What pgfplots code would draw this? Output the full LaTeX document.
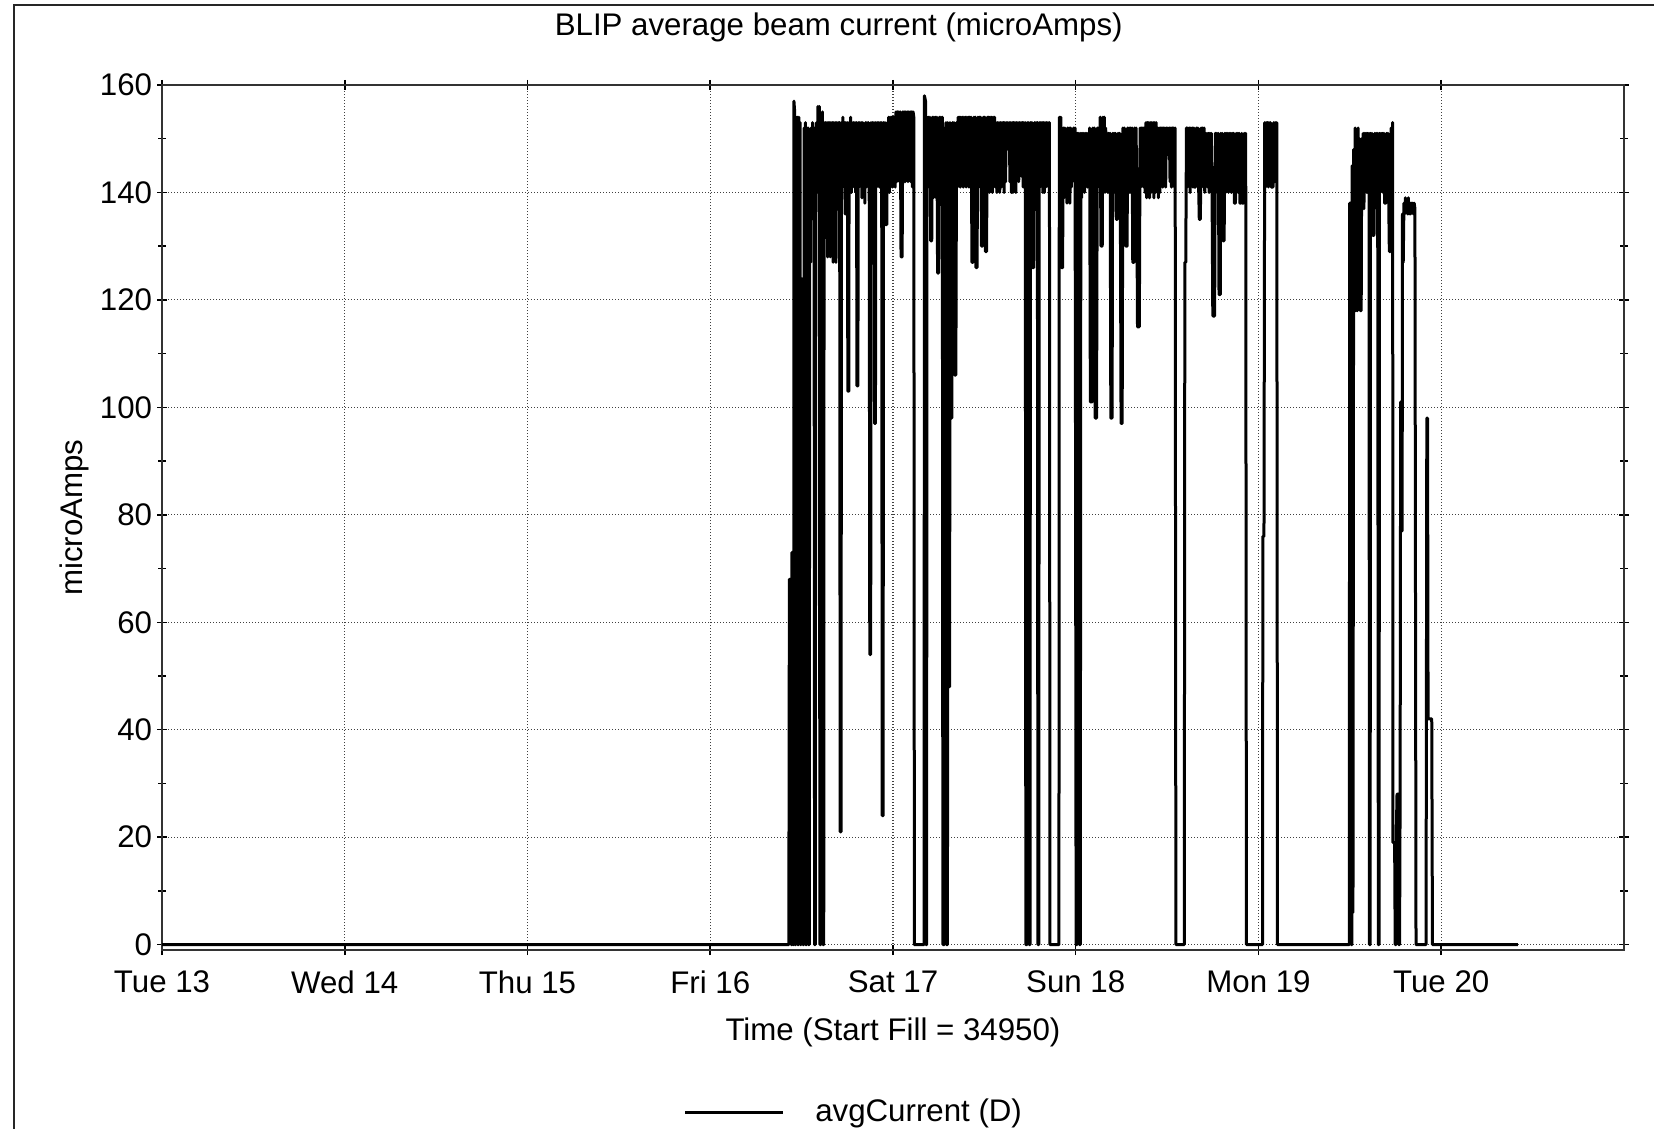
\documentclass[border=0pt]{standalone}
\usepackage{pgfplots}
\pgfplotsset{compat=1.18}
\usepackage{pgfplotstable}
\usepackage{fontspec}
\setmainfont{Liberation Sans}

% time in days from Tue 13 00:00, beam current in microAmps
\pgfplotstableread{
day uA
0.000 0
3.430 0
3.433 68
3.442 68
3.443 0
3.446 0
3.447 73
3.452 73
3.453 0
3.456 0
3.458 157
3.462 155
3.464 0
3.468 0
3.470 154
3.474 146
3.477 154
3.479 0
3.483 0
3.485 154
3.489 143
3.492 153
3.494 0
3.497 0
3.499 124
3.506 123
3.508 0
3.512 0
3.514 152
3.518 140
3.521 153
3.523 0
3.527 0
3.529 152
3.533 141
3.536 152
3.538 0
3.542 0
3.544 127
3.549 127
3.552 152
3.556 139
3.560 153
3.564 141
3.568 152
3.571 0
3.575 0
3.577 135
3.581 153
3.585 140
3.589 156
3.593 143
3.597 156
3.600 0
3.604 0
3.606 154
3.610 136
3.614 155
3.617 0
3.621 0
3.623 153
3.627 141
3.631 153
3.635 142
3.639 153
3.642 128
3.646 153
3.650 141
3.654 153
3.657 128
3.661 153
3.665 140
3.669 153
3.672 127
3.676 153
3.680 142
3.684 153
3.688 127
3.692 153
3.696 141
3.700 153
3.704 140
3.708 153
3.711 21
3.716 21
3.718 153
3.722 141
3.726 154
3.730 143
3.734 153
3.738 136
3.742 153
3.746 141
3.750 153
3.753 103
3.758 103
3.760 153
3.764 142
3.768 154
3.772 140
3.776 153
3.780 142
3.784 153
3.788 141
3.792 153
3.796 140
3.800 153
3.803 104
3.808 104
3.810 153
3.814 141
3.818 153
3.822 142
3.826 153
3.830 139
3.834 153
3.838 142
3.842 152
3.846 138
3.850 153
3.854 141
3.858 153
3.862 142
3.866 153
3.870 140
3.873 54
3.878 54
3.880 153
3.884 141
3.888 153
3.892 142
3.896 153
3.899 97
3.904 97
3.906 153
3.910 141
3.914 153
3.918 143
3.922 153
3.926 141
3.930 153
3.934 142
3.938 153
3.941 24
3.946 24
3.948 153
3.952 141
3.956 153
3.960 134
3.966 134
3.968 153
3.972 141
3.976 154
3.980 140
3.984 154
3.988 142
3.992 154
3.996 141
4.000 154
4.004 143
4.008 154
4.012 141
4.016 155
4.020 142
4.024 155
4.028 143
4.032 155
4.036 142
4.040 155
4.044 128
4.050 128
4.054 155
4.058 142
4.062 155
4.066 142
4.070 155
4.074 143
4.078 155
4.082 142
4.086 155
4.090 143
4.094 155
4.098 142
4.102 155
4.106 141
4.110 155
4.114 154
4.117 0
4.170 0
4.172 158
4.178 157
4.180 0
4.184 0
4.186 154
4.190 142
4.194 154
4.198 141
4.202 154
4.206 131
4.212 131
4.216 154
4.220 139
4.224 154
4.228 141
4.232 154
4.236 139
4.240 154
4.244 125
4.250 125
4.254 154
4.258 143
4.262 154
4.266 141
4.270 154
4.273 0
4.280 0
4.282 152
4.286 141
4.290 153
4.293 0
4.298 0
4.300 153
4.304 48
4.310 48
4.312 153
4.316 98
4.322 98
4.326 153
4.330 141
4.334 153
4.338 106
4.344 106
4.348 153
4.352 141
4.356 154
4.360 142
4.364 154
4.368 141
4.372 154
4.376 143
4.380 154
4.384 141
4.388 154
4.392 142
4.396 154
4.400 141
4.404 154
4.408 143
4.412 154
4.416 141
4.420 154
4.424 142
4.428 154
4.432 127
4.438 127
4.442 154
4.446 141
4.450 154
4.454 126
4.460 126
4.464 154
4.468 142
4.472 154
4.476 141
4.480 154
4.484 130
4.490 130
4.494 154
4.498 140
4.502 154
4.506 129
4.512 129
4.516 154
4.520 141
4.524 154
4.528 140
4.532 154
4.536 142
4.540 154
4.544 140
4.548 154
4.552 142
4.556 154
4.560 141
4.564 153
4.568 140
4.572 153
4.576 142
4.580 153
4.584 140
4.588 153
4.592 141
4.596 153
4.600 142
4.604 153
4.608 140
4.612 153
4.616 142
4.620 153
4.624 148
4.628 153
4.632 148
4.636 153
4.640 142
4.644 153
4.648 140
4.652 153
4.656 140
4.660 153
4.664 142
4.668 153
4.672 140
4.676 153
4.680 143
4.684 153
4.688 142
4.692 153
4.696 148
4.700 153
4.704 143
4.708 153
4.712 141
4.716 153
4.720 142
4.724 153
4.727 0
4.733 0
4.735 153
4.739 141
4.743 153
4.746 0
4.750 0
4.752 153
4.756 142
4.760 153
4.764 126
4.770 126
4.774 153
4.778 141
4.782 153
4.786 142
4.790 153
4.793 0
4.798 0
4.800 153
4.804 141
4.808 153
4.812 142
4.816 153
4.820 140
4.824 153
4.828 140
4.832 153
4.836 141
4.840 153
4.844 142
4.848 153
4.852 141
4.856 153
4.859 0
4.908 0
4.910 154
4.914 148
4.918 154
4.922 126
4.928 126
4.932 152
4.936 139
4.940 152
4.944 141
4.948 151
4.952 138
4.956 152
4.960 142
4.964 152
4.968 138
4.972 152
4.976 141
4.980 151
4.984 148
4.988 152
4.992 142
4.996 152
4.999 90
5.002 0
5.007 0
5.009 151
5.013 140
5.017 151
5.020 0
5.025 0
5.028 151
5.032 139
5.036 151
5.040 141
5.044 151
5.048 140
5.052 151
5.056 142
5.060 151
5.064 141
5.068 151
5.072 148
5.076 152
5.080 101
5.090 101
5.094 152
5.098 141
5.102 152
5.106 98
5.114 98
5.118 152
5.122 141
5.126 152
5.130 142
5.134 154
5.138 130
5.145 130
5.148 154
5.152 141
5.156 154
5.160 140
5.164 152
5.168 141
5.172 151
5.176 140
5.180 151
5.184 142
5.188 151
5.192 98
5.199 98
5.202 151
5.206 141
5.210 151
5.214 140
5.218 151
5.222 135
5.228 135
5.232 151
5.236 141
5.240 151
5.244 140
5.248 97
5.254 97
5.258 152
5.262 141
5.266 152
5.270 142
5.274 130
5.281 130
5.284 152
5.288 141
5.292 152
5.296 140
5.300 152
5.304 142
5.308 152
5.312 127
5.319 127
5.322 152
5.326 141
5.330 152
5.334 140
5.338 115
5.348 115
5.352 152
5.356 141
5.360 152
5.364 142
5.368 152
5.372 141
5.376 152
5.380 140
5.384 153
5.388 139
5.392 153
5.396 140
5.400 153
5.404 139
5.408 153
5.412 140
5.416 153
5.420 141
5.424 153
5.428 139
5.432 153
5.436 140
5.440 153
5.444 141
5.448 152
5.452 139
5.456 152
5.460 140
5.464 152
5.468 142
5.472 152
5.476 141
5.480 152
5.484 142
5.488 152
5.492 141
5.496 152
5.500 147
5.504 152
5.508 147
5.512 152
5.516 142
5.520 152
5.524 141
5.528 152
5.532 142
5.536 152
5.540 141
5.544 152
5.548 0
5.594 0
5.597 127
5.602 127
5.606 152
5.610 141
5.614 152
5.618 142
5.622 152
5.626 140
5.630 152
5.634 142
5.638 152
5.642 141
5.646 152
5.650 141
5.656 141
5.660 152
5.664 142
5.668 152
5.672 142
5.676 135
5.682 135
5.686 152
5.690 141
5.694 152
5.698 142
5.702 152
5.706 140
5.710 151
5.714 142
5.718 151
5.722 141
5.726 151
5.730 140
5.734 151
5.738 141
5.742 151
5.746 140
5.750 117
5.760 117
5.764 151
5.768 140
5.772 151
5.776 141
5.780 151
5.784 121
5.791 121
5.794 151
5.798 141
5.802 151
5.806 131
5.812 131
5.816 151
5.820 140
5.824 151
5.828 141
5.832 151
5.836 140
5.840 151
5.844 142
5.848 151
5.852 140
5.856 151
5.860 141
5.864 151
5.868 138
5.874 138
5.878 151
5.882 141
5.886 151
5.890 140
5.894 151
5.898 138
5.904 138
5.908 151
5.912 138
5.918 138
5.922 151
5.926 141
5.930 151
5.934 0
6.022 0
6.024 76
6.030 76
6.034 153
6.038 141
6.042 153
6.046 142
6.050 153
6.054 141
6.058 153
6.062 142
6.066 153
6.070 141
6.080 141
6.084 153
6.088 142
6.092 153
6.096 142
6.100 153
6.104 0
6.497 0
6.499 138
6.504 138
6.507 0
6.511 0
6.513 145
6.517 6
6.521 148
6.525 118
6.529 152
6.533 118
6.537 150
6.541 118
6.545 152
6.549 131
6.553 150
6.557 118
6.562 118
6.565 150
6.569 140
6.573 151
6.577 137
6.581 151
6.585 141
6.589 151
6.593 140
6.597 151
6.601 142
6.605 151
6.607 0
6.611 0
6.613 151
6.617 141
6.621 151
6.625 132
6.632 132
6.636 151
6.640 142
6.644 151
6.648 137
6.652 151
6.656 0
6.660 0
6.662 151
6.666 140
6.670 151
6.674 141
6.678 151
6.682 140
6.686 151
6.690 138
6.697 138
6.700 151
6.704 141
6.708 151
6.712 140
6.716 129
6.722 129
6.726 152
6.730 141
6.734 153
6.736 19
6.745 19
6.748 0
6.752 0
6.754 20
6.758 28
6.765 28
6.768 0
6.772 0
6.775 28
6.778 101
6.782 77
6.786 77
6.788 136
6.792 127
6.796 138
6.800 136
6.804 139
6.808 137
6.812 138
6.816 136
6.820 139
6.824 136
6.828 138
6.832 136
6.836 138
6.840 137
6.844 138
6.848 136
6.852 138
6.856 137
6.862 0
6.917 0
6.921 98
6.925 98
6.928 42
6.948 42
6.952 0
7.419 0
}\blipdata

\begin{document}
\fontsize{12.5}{15}\selectfont
\begin{tikzpicture}
\path[use as bounding box] (0pt,0pt) rectangle (661.6pt,-451.6pt);
\draw[line width=1pt, black!85] (5.6pt,-451.6pt) -- (5.6pt,-2pt) -- (661.6pt,-2pt);
\node at (335.5pt,-11pt) {BLIP average beam current (microAmps)};
\begin{axis}[
  at={(64.8pt,-380pt)}, anchor=south west,
  width=584.8pt, height=346pt, scale only axis,
  xmin=0, xmax=8, ymin=-1, ymax=160,
  xtick={0,1,2,3,4,5,6,7},
  xticklabels={Tue 13, Wed 14, Thu 15, Fri 16, Sat 17, Sun 18, Mon 19, Tue 20},
  ytick={0,20,...,160},
  minor y tick num=1,
  tick align=center,
  major tick length=4pt, minor tick length=3.2pt,
  every tick/.style={black, line width=0.6pt},
  xticklabel style={yshift=-1.9pt},
  yticklabel style={xshift=2.4pt},
  /pgf/number format/assume math mode=true,
  grid=major,
  major grid style={black!75, line width=0.45pt, dash pattern=on 0.45pt off 0.75pt},
  axis line style={black!80, line width=0.8pt},
  xlabel={Time (Start Fill = 34950)},
  ylabel={microAmps},
  xlabel style={at={(axis description cs:0.5,-0.0950)}, anchor=center},
  ylabel style={at={(axis description cs:-0.0600,0.5)}, anchor=center},
  legend style={at={(0.3564,-0.1880)}, anchor=west, draw=none, fill=none,
    inner sep=0pt},
  legend cell align=left,
  legend image code/.code={\draw[line width=1.2pt] (0pt,0pt) -- (39.2pt,0pt); \path (49.5pt,0pt);},
]
\addplot[black, line width=1.2pt, line join=round] table[x=day, y=uA] {\blipdata};
\addlegendentry{avgCurrent (D)}
\end{axis}
\end{tikzpicture}
\end{document}
